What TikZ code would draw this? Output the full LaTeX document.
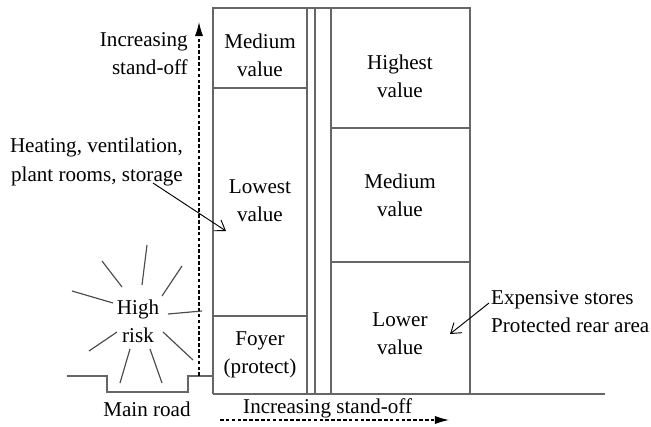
\documentclass[tikz,border=0pt]{standalone}
\usepackage{fontspec}
\setmainfont{LiberationSerif}[Extension=.ttf,UprightFont=*-Regular]
\usetikzlibrary{arrows.meta,positioning}

\begin{document}
\begin{tikzpicture}[x=0.03cm,y=-0.03cm,
			wall/.style={draw=gray!80!black,line width=1pt},
			label text/.style={font=\fontsize{18}{24}\selectfont,align=center,inner sep=0pt},
			standoff/.style={dash pattern=on 3pt off 2pt,line width=1pt,-{Latex[length=12pt,width=7pt]}},
			pointer/.style={line width=0.8pt,-{Straight Barb[length=8pt,width=11pt]}},
			ray/.style={draw=gray!60!black,line width=1pt}
			]
			
			\useasboundingbox (0,0) rectangle (651,427);
			
			% building outline and rooms
			\draw[wall] (213,394) -- (213,8) -- (470,8) -- (470,394);
			\foreach \x in {307,315,331}
				\draw[wall] (\x,8) -- (\x,394);
			\draw[wall] (213,88) -- (307,88);
			\draw[wall] (213,316) -- (307,316);
			\draw[wall] (331,128) -- (470,128);
			\draw[wall] (331,262) -- (470,262);
			
			% ground and road
			\draw[wall] (213,394) -- (605,394);
			\draw[wall] (67,376) -- (107,376) -- (107,392) -- (188,392) -- (188,376) -- (213,376);
			
			\node[label text] (medL) at (260,55) {Medium\\value};
			\node[label text] (lowest) at (260,201) {Lowest\\value};
			\node[label text] (foyer) at (260,355) {Foyer\\(protect)};
			\node[label text] (highest) at (400,76) {Highest\\value};
			\node[label text] (medR) at (400,195) {Medium\\value};
			\node[label text] (lower) at (400,334) {Lower\\value};
			
			\node[label text,align=right,anchor=east] (upLbl) at (188,54) {Increasing\\stand-off};
			\node[label text,align=right,anchor=east] (heat) at (183,162) {Heating, ventilation,\\plant rooms, storage};
			\node[label text] (risk) at (138,321) {High\\risk};
			\node[label text] (road) at (147,409) {Main road};
			\node[label text,anchor=west] (backLbl) at (243,408) {Increasing stand-off};
			\node[label text,align=left,anchor=west] (rear) at (491,312) {Expensive stores\\Protected rear area};
			
			% stand-off arrows
			\coordinate (upFrom) at (199,376);
			\coordinate (upTo) at (199,22);
			\coordinate (backFrom) at (220,420);
			\coordinate (backTo) at (449,420);
			\draw[standoff] (upFrom) -- (upTo);
			\draw[standoff] (backFrom) -- (backTo);
			
			% pointers
			\coordinate (heatFrom) at (153,183);
			\coordinate (heatTip) at (226,231);
			\draw[pointer] (heatFrom) -- (heatTip);
			\coordinate (rearFrom) at (489,303);
			\coordinate (rearTip) at (450,334);
			\draw[pointer] (rearFrom) -- (rearTip);
			
			% blast rays
			\foreach \a/\b in {{(102,261)}/{(122,287)},{(147,245)}/{(142,285)},{(182,266)}/{(162,296)},
				{(72,291)}/{(113,303)},{(168,314)}/{(202,311)},{(117,332)}/{(89,351)},
				{(130,349)}/{(120,383)},{(150,349)}/{(162,383)},{(163,332)}/{(193,360)}}
				\draw[ray] \a -- \b;
			\end{tikzpicture}
\end{document}
